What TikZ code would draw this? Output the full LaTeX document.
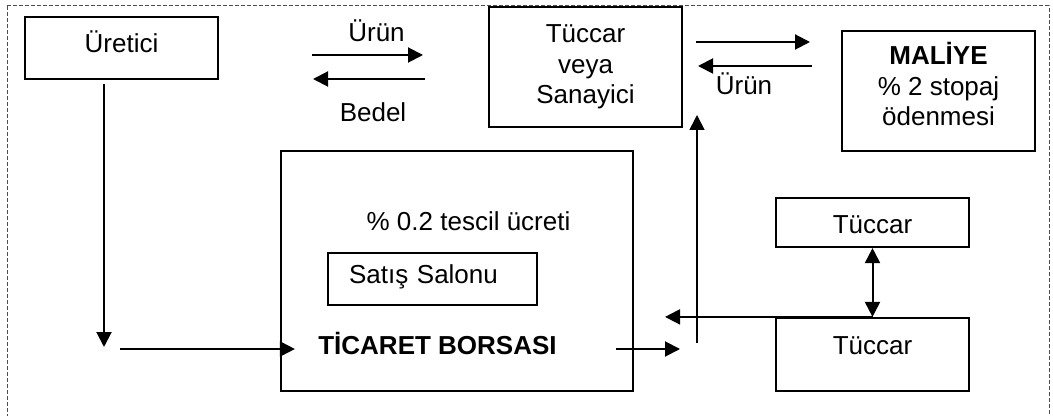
\documentclass[tikz,border=0pt]{standalone}
\usepackage{fontspec}
\setmainfont{Liberation Sans}
\usetikzlibrary{arrows.meta}

\tikzset{
    kutu/.style={draw, line width=1.1pt, inner sep=0pt, minimum width=96.5pt, align=center},
    tekkutu/.style={kutu, text height=.7em, text depth=.2em},
    ok/.style={-{Triangle[length=7.5pt,width=7.5pt]}, line width=1pt},
    ciftok/.style={{Triangle[length=7.5pt,width=7.5pt]}-{Triangle[length=7.5pt,width=7.5pt]}, line width=1pt},
    yazi/.style={inner sep=0pt, anchor=base}
}

\begin{document}
\begin{tikzpicture}[x=0.5pt, y=-0.5pt, every node/.style={font=\fontsize{13}{15.2}\selectfont}]
            \useasboundingbox (0,0) rectangle (1053,416);
            \draw[black!70, line width=0.5pt, dash pattern=on 2pt off 1pt] (7,6) rectangle (1049,430);

            \node[tekkutu, minimum height=31pt] (uretici) at (121.5,48) {Üretici};
            \node[kutu, minimum height=60pt] (sanayici) at (585.5,67) {Tüccar\\veya\\Sanayici};
            \node[kutu, minimum height=60pt] (maliye) at (938.5,91) {\textbf{MALİYE}\\\% 2 stopaj\\ödenmesi\rule[-7pt]{0pt}{0pt}};
            \node[kutu, minimum width=176pt, minimum height=120pt] (borsa) at (457,271) {};
            \node[tekkutu, minimum width=104.5pt, minimum height=26pt, text width=83.5pt, inner xsep=10.5pt, align=left] (salon) at (432.5,279) {Satış Salonu};
            \node[yazi] (tescil) at (468.5,231) {\% 0.2 tescil ücreti};
            \node[yazi] (borsaad) at (437.5,354) {\textbf{TİCARET BORSASI}};
            \node[kutu, minimum height=24.5pt, text height=13.2pt, text depth=2.6pt] (tuccarA) at (872.5,222.5) {Tüccar};
            \node[kutu, minimum height=36.5pt, text height=9.2pt, text depth=9.2pt] (tuccarB) at (872.5,354.5) {Tüccar};

            \coordinate (u1) at (312,55);
            \coordinate (u2) at (423,55);
            \coordinate (b1) at (425,79);
            \coordinate (b2) at (313,79);
            \node[yazi] (urunA) at (376.5,42) {Ürün};
            \node[yazi] (bedel) at (373,122) {Bedel};

            \coordinate (m1) at (696,42);
            \coordinate (m2) at (810,42);
            \coordinate (m3) at (812,66);
            \coordinate (m4) at (698,66);
            \node[yazi] (urunB) at (744,95) {Ürün};

            \coordinate (d1) at (104,347);
            \coordinate (d2) at (120,349);
            \coordinate (c1) at (616,349);
            \coordinate (c2) at (680,349);
            \coordinate (s1) at (697,343);
            \coordinate (s2) at (697,115);
            \coordinate (t1) at (665,319);

            \draw[ok] (u1) -- (u2);
            \draw[ok] (b1) -- (b2);
            \draw[ok] (m1) -- (m2);
            \draw[ok] (m3) -- (m4);
            \draw[ok, shorten <=2pt] (uretici.south -| d1) -- (d1);
            \draw[ok, shorten >=-7.5pt] (d2) -- (d2 -| borsa.west);
            \draw[ok] (c1) -- (c2);
            \draw[ok, line width=0.8pt] (s1) -- (s2);
            \draw[ciftok] (tuccarA.south) -- (tuccarB.north);
            \draw[ok] (tuccarB.north) -- (tuccarB.north -| t1);
        \end{tikzpicture}
\end{document}
